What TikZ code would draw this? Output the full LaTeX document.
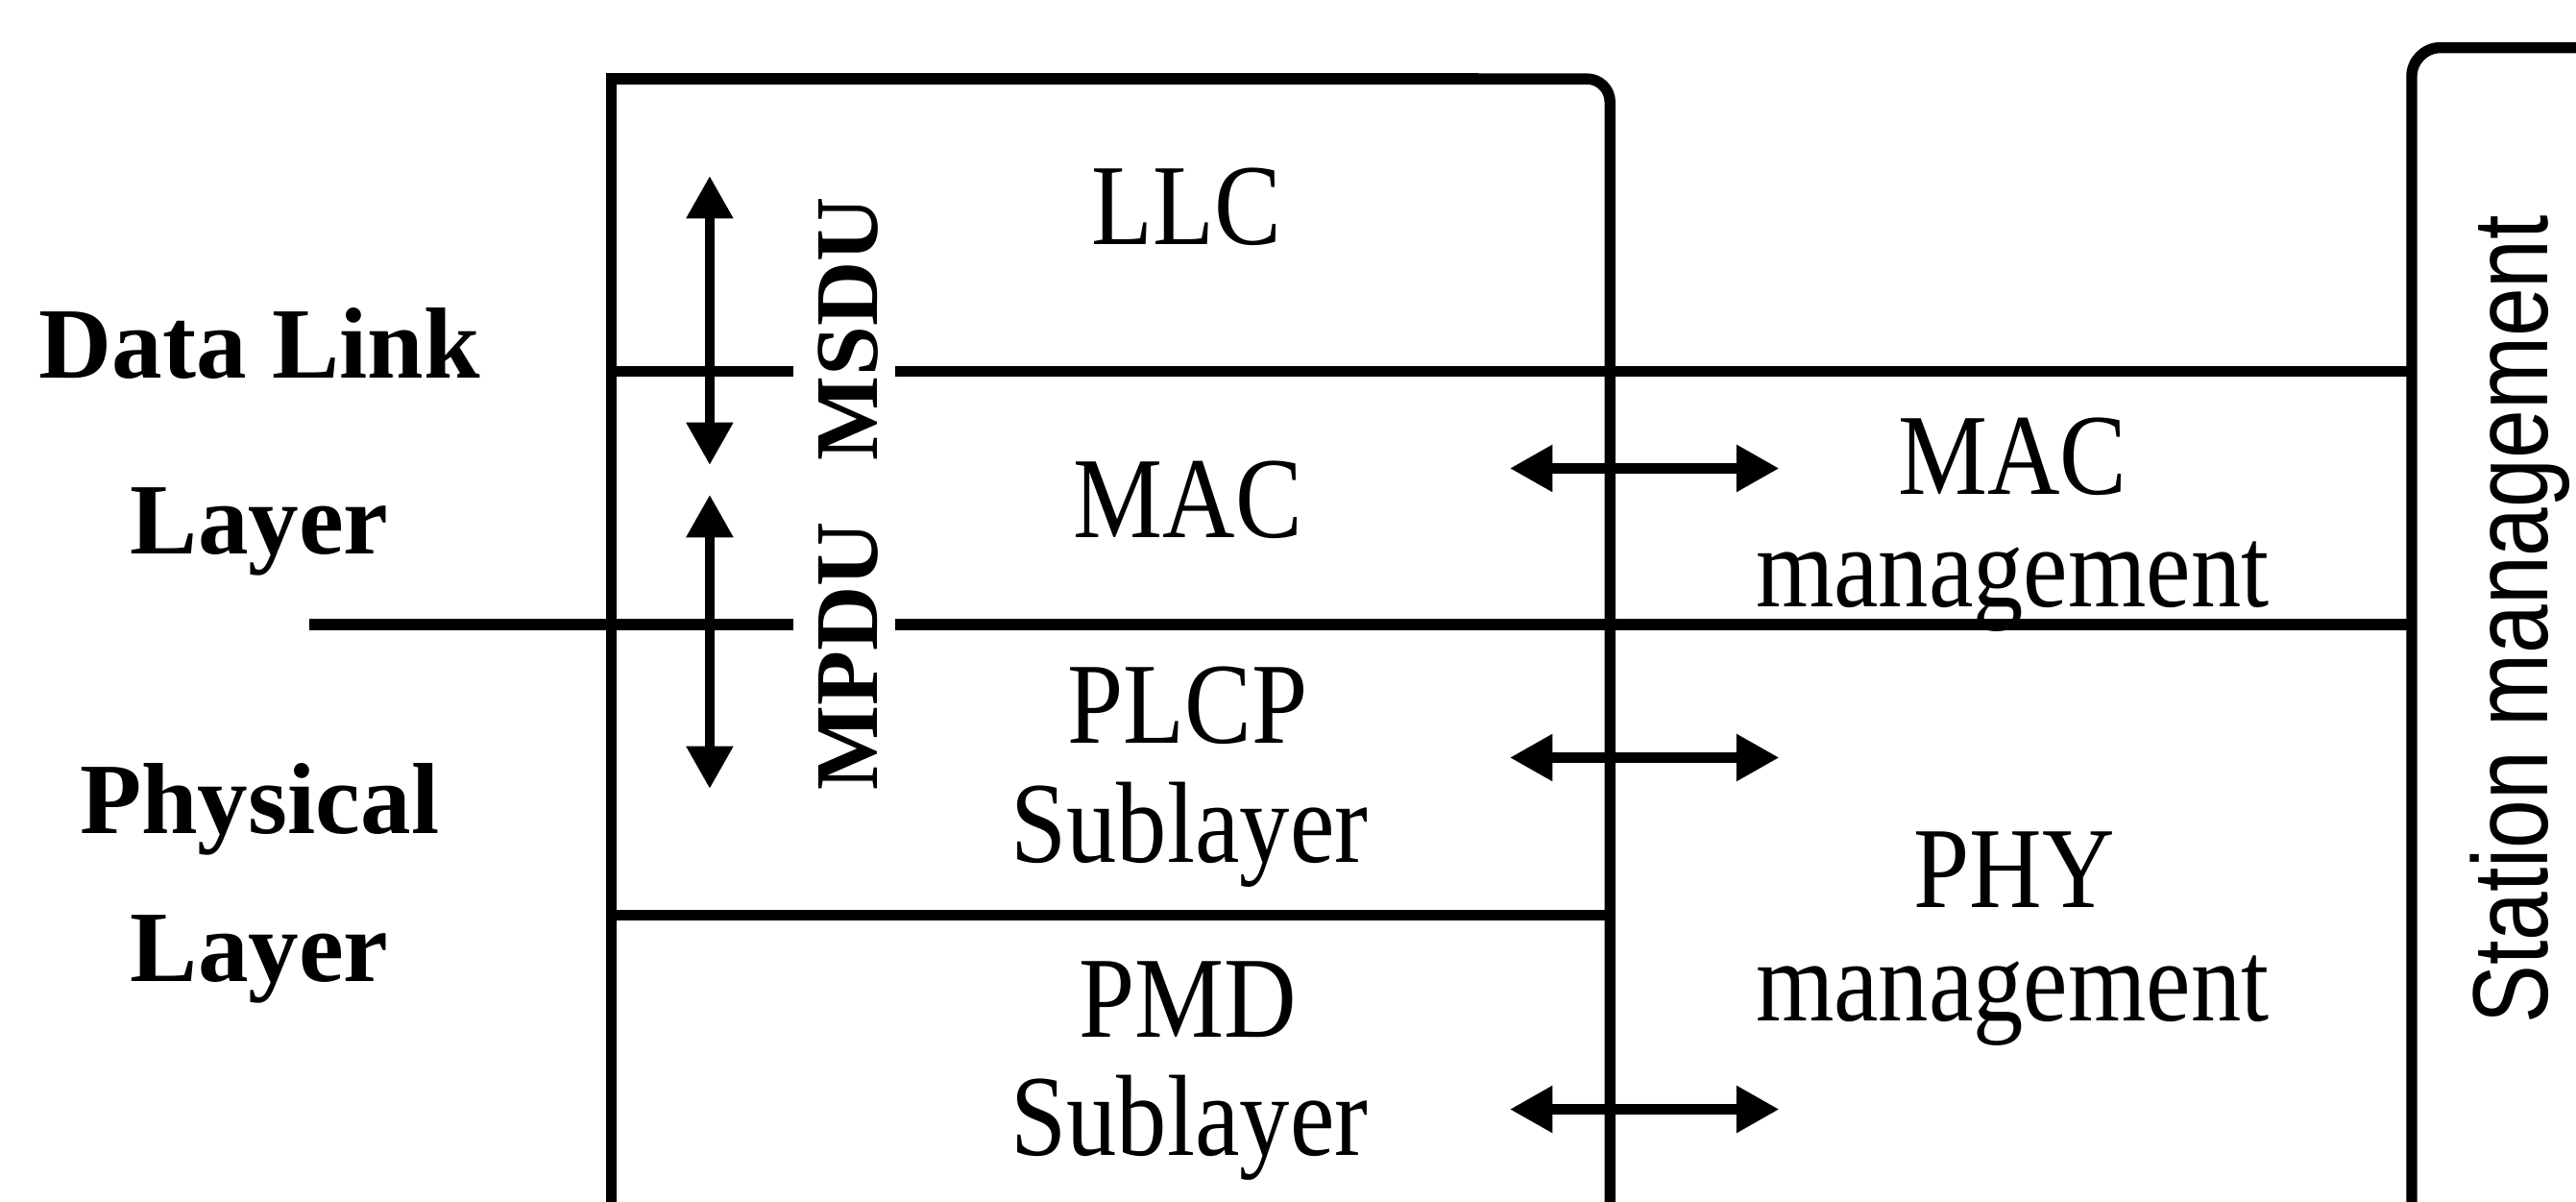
\documentclass[tikz,border=0pt]{standalone}
\usepackage{fontspec}
\setmainfont{Liberation Serif}
\newfontfamily\subfont{Liberation Serif}[FakeStretch=0.87]
\newfontfamily\stationfont{Liberation Sans}[FakeStretch=0.82]
\usetikzlibrary{arrows.meta}
\definecolor{Ink}{HTML}{000000}
\definecolor{Panel}{HTML}{FFFFFF}

\tikzset{
  rule/.style={draw=Ink,line width=1.9pt},
  dblarrow/.style={draw=Ink,line width=1.8pt,
    {Triangle[length=7.4pt,width=7.7pt]}-{Triangle[length=7.4pt,width=7.7pt]}},
  layerlabel/.style={anchor=base,inner sep=0pt,text=Ink,
    font=\bfseries\fontsize{17.5}{20}\selectfont},
  sublabel/.style={anchor=base,inner sep=0pt,text=Ink,
    font=\subfont\fontsize{20}{24}\selectfont},
  pdulabel/.style={anchor=base,inner sep=0pt,rotate=90,text=Ink,
    font=\bfseries\fontsize{15.5}{18}\selectfont},
  stationlabel/.style={anchor=base,inner sep=0pt,rotate=90,text=Ink,
    font=\stationfont\fontsize{18.5}{22}\selectfont}
}

\begin{document}
\begin{tikzpicture}[x=0.1mm,y=-0.1mm]
\path[use as bounding box,fill=Panel] (0,0) rectangle (1568,731);
% layer stack and management boxes
\draw[rule] (372,745) -- (372,48) -- (900,48);
\draw[rule,rounded corners=4] (980,745) -- (980,48) -- (800,48);
\draw[rule,rounded corners=5] (1468,745) -- (1468,29) -- (1580,29);
\draw[rule] (372,226) -- (483,226);
\draw[rule] (545,226) -- (1468,226);
\draw[rule] (188,380) -- (483,380);
\draw[rule] (545,380) -- (1468,380);
\draw[rule] (372,557) -- (980,557);
% left side layer names
\node[layerlabel] (dll) at (158,230) {Data Link};
\node[layerlabel] (dllb) at (158,337) {Layer};
\node[layerlabel] (phy) at (158,507) {Physical};
\node[layerlabel] (phyb) at (158,597) {Layer};
% sublayers
\node[sublabel] (llc) at (722,149) {LLC};
\node[sublabel] (mac) at (723,327) {MAC};
\node[sublabel] (plcp) at (723,452) {PLCP};
\node[sublabel] (plcpsub) at (724,525) {Sublayer};
\node[sublabel] (pmd) at (723,631) {PMD};
\node[sublabel] (pmdsub) at (724,703) {Sublayer};
\node[sublabel] (macmgmt) at (1225,301) {MAC};
\node[sublabel] (macmgmtb) at (1225,369) {management};
\node[sublabel] (phymgmt) at (1226,552) {PHY};
\node[sublabel] (phymgmtb) at (1225,621) {management};
\node[stationlabel] (station) at (1551,377) {Station management};
% data units
\node[pdulabel] (msdu) at (534,200) {MSDU};
\node[pdulabel] (mpdu) at (534,399) {MPDU};
\coordinate (msdutop) at (432,107);
\coordinate (msdubot) at (432,283);
\coordinate (mpdutop) at (432,301);
\coordinate (mpdubot) at (432,480);
\draw[dblarrow] (msdutop) -- (msdubot);
\draw[dblarrow] (mpdutop) -- (mpdubot);
% sap arrows
\coordinate (macsapl) at (919,285);
\coordinate (macsapr) at (1083,285);
\coordinate (plcpsapl) at (919,461);
\coordinate (plcpsapr) at (1083,461);
\coordinate (pmdsapl) at (919,675);
\coordinate (pmdsapr) at (1083,675);
\draw[dblarrow] (macsapl) -- (macsapr);
\draw[dblarrow] (plcpsapl) -- (plcpsapr);
\draw[dblarrow] (pmdsapl) -- (pmdsapr);
\end{tikzpicture}
\end{document}
